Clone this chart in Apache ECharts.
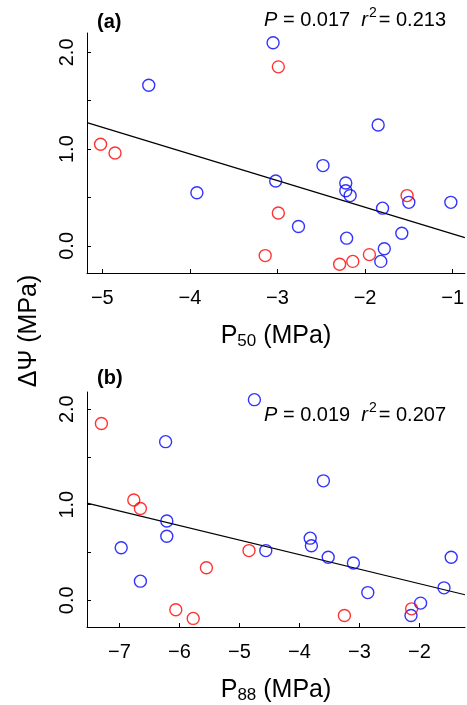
<!DOCTYPE html>
<html>
<head>
<meta charset="utf-8">
<script src="https://cdn.jsdelivr.net/npm/echarts@6/dist/echarts.min.js"></script>
<style>
html,body{margin:0;padding:0;background:#fff;}
#c{width:467px;height:705px;}
</style>
</head>
<body>
<div id="c"></div>
<script>
// Data (per species)
const dpsiRed = [1.85, 1.05, 0.96, 0.52, 0.34, -0.10, -0.19, -0.16, -0.09];
const p50Red  = [-2.99, -5.02, -4.855, -1.52, -2.99, -3.14, -2.29, -2.14, -1.95];
const p88Red  = [-7.30, -6.76, -6.65, -4.84, -5.55, -6.06, -5.77, -3.25, -2.13];

const dpsiBlue = [2.10, 1.66, 1.25, 0.83, 0.67, 0.65, 0.57, 0.55, 0.52, 0.45, 0.45, 0.39, 0.20, 0.13, 0.08, -0.03, -0.16];
const p50Blue  = [-3.05, -4.47, -1.85, -2.48, -3.02, -2.22, -2.22, -3.92, -2.17, -1.50, -1.02, -1.80, -2.76, -1.58, -2.21, -1.78, -1.82];
const p88Blue  = [-4.75, -6.23, -3.60, -6.21, -6.21, -3.82, -3.80, -6.97, -4.56, -3.52, -1.47, -3.10, -6.65, -1.59, -2.86, -1.98, -2.14];

// Regression line endpoints
const fit50X = [-5.175, -0.86];
const fit50Y = [1.274, 0.086];
const fit88X = [-7.54, -1.24];
const fit88Y = [1.016, 0.058];

// Tick values
const xTicks50 = [-5, -4, -3, -2, -1];
const xTicks88 = [-7, -6, -5, -4, -3, -2];
const yLabelTicks = [0, 1, 2];
const yMinorTicks = [0, 0.5, 1, 1.5, 2];

const FONT = "'Liberation Sans', Arial, sans-serif";
const zip = (a, b) => a.map((v, i) => [v, b[i]]);

function xAxisCfg(gi, min, max, ticks, sub) {
  return {
    type: 'value', gridIndex: gi, min: min, max: max,
    axisLine: { show: true, onZero: false, lineStyle: { color: '#000', width: 1 } },
    axisTick: { show: true, inside: true, length: 4, customValues: ticks, lineStyle: { color: '#000', width: 1 } },
    axisLabel: {
      customValues: ticks, margin: 15, color: '#000', fontFamily: FONT, fontSize: 20,
      formatter: v => String(v).replace('-', '\u2212')
    },
    splitLine: { show: false },
    name: '{m|P}{s|' + sub + '}{m| (MPa)}',
    nameLocation: 'middle', nameGap: 50,
    nameTextStyle: {
      rich: {
        m: { fontFamily: FONT, fontSize: 25, color: '#000' },
        s: { fontFamily: FONT, fontSize: 17, color: '#000', verticalAlign: 'bottom', padding: [10, 0, 0, 0] }
      }
    }
  };
}
function yAxisCfg(gi, min, max) {
  return {
    type: 'value', gridIndex: gi, min: min, max: max,
    axisLine: { show: true, onZero: false, lineStyle: { color: '#000', width: 1 } },
    axisTick: { show: true, inside: true, length: 4, customValues: yMinorTicks, lineStyle: { color: '#000', width: 1 } },
    axisLabel: {
      customValues: yLabelTicks, rotate: 90, margin: 10, color: '#000', fontFamily: FONT, fontSize: 20,
      formatter: v => Number(v).toFixed(1)
    },
    splitLine: { show: false }
  };
}
function scatter(xi, data, color) {
  return {
    type: 'scatter', xAxisIndex: xi, yAxisIndex: xi, data: data,
    symbol: 'circle', symbolSize: 12,
    itemStyle: { color: 'transparent', borderColor: color, borderWidth: 1.4 },
    silent: true, z: 3
  };
}
function fitLine(xi, xs, ys) {
  return {
    type: 'line', xAxisIndex: xi, yAxisIndex: xi, data: zip(xs, ys),
    showSymbol: false, lineStyle: { color: '#000', width: 1.2 }, silent: true, z: 2
  };
}
function statText(x, y, p, r) {
  return {
    type: 'text', left: x, top: y,
    style: {
      text: '{i|P}{n| = ' + p + '  }{i|r}{sup|2}{n|= ' + r + '}',
      rich: {
        i: { fontFamily: FONT, fontSize: 20, fontStyle: 'italic', fill: '#000', lineHeight: 26, verticalAlign: 'bottom' },
        n: { fontFamily: FONT, fontSize: 20, fill: '#000', lineHeight: 26, verticalAlign: 'bottom' },
        sup: { fontFamily: FONT, fontSize: 14, fill: '#000', verticalAlign: 'bottom', lineHeight: 14, padding: [0, 2, 10, 1] }
      }
    }
  };
}

const chart = echarts.init(document.getElementById('c'), null, { renderer: 'canvas' });
chart.setOption({
  backgroundColor: '#fff',
  animation: false,
  grid: [
    { left: 87, top: 33, width: 378, height: 240 },
    { left: 87, top: 392, width: 378, height: 238 }
  ],
  xAxis: [ xAxisCfg(0, -5.175, -0.86, xTicks50, '50'), xAxisCfg(1, -7.54, -1.24, xTicks88, '88') ],
  yAxis: [ yAxisCfg(0, -0.28, 2.2), yAxisCfg(1, -0.28, 2.18) ],
  series: [
    fitLine(0, fit50X, fit50Y),
    scatter(0, zip(p50Blue, dpsiBlue), '#0000ff'),
    scatter(0, zip(p50Red, dpsiRed), '#ff0000'),
    fitLine(1, fit88X, fit88Y),
    scatter(1, zip(p88Blue, dpsiBlue), '#0000ff'),
    scatter(1, zip(p88Red, dpsiRed), '#ff0000')
  ],
  graphic: [
    { type: 'text', left: 97, top: 12, style: { text: '(a)', fontFamily: FONT, fontSize: 20, fontWeight: 'bold', fill: '#000' } },
    { type: 'text', left: 97, top: 368, style: { text: '(b)', fontFamily: FONT, fontSize: 20, fontWeight: 'bold', fill: '#000' } },
    statText(264, 6, '0.017', '0.213'),
    statText(264, 401, '0.019', '0.207'),
    {
      type: 'text', x: 29, y: 331, rotation: Math.PI / 2,
      style: { text: '\u0394\u03A8 (MPa)', fontFamily: FONT, fontSize: 25, fill: '#000', align: 'center', verticalAlign: 'middle' }
    }
  ]
});
</script>
</body>
</html>
